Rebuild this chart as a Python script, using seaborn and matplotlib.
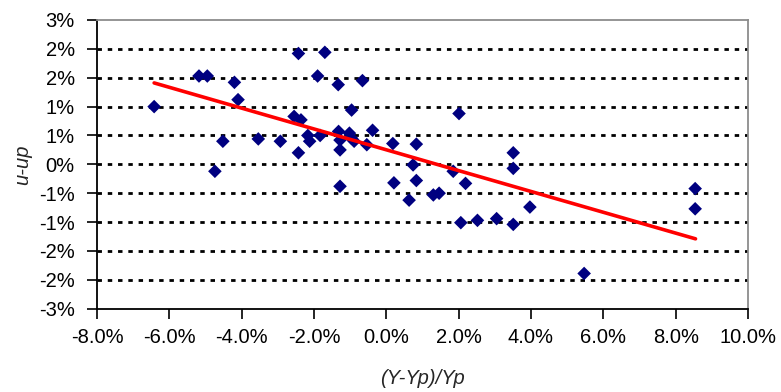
import math
import matplotlib
matplotlib.use("Agg")
import matplotlib.pyplot as plt
from matplotlib.ticker import MultipleLocator, FuncFormatter
import seaborn as sns
import pandas as pd

# values, in percent
rel_dev = [-6.42, -5.18, -4.95, -4.74, -4.52, -4.20, -4.10, -3.54, -2.93, -2.55,
           -2.43, -2.43, -2.36, -2.17, -2.12, -1.90, -1.83, -1.70, -1.33, -1.32,
           -1.28, -1.28, -1.28, -1.02, -0.96, -0.96, -0.89, -0.66, -0.54, -0.38,
           0.18, 0.21, 0.63, 0.74, 0.83, 0.83, 1.30, 1.46, 1.85, 2.01,
           2.06, 2.19, 2.52, 3.05, 3.51, 3.51, 3.51, 3.97, 5.47, 8.54, 8.54]
u_up = [1.00, 1.53, 1.53, -0.12, 0.40, 1.42, 1.12, 0.44, 0.40, 0.83,
        1.92, 0.20, 0.77, 0.50, 0.40, 1.53, 0.50, 1.94, 1.38, 0.57,
        0.42, 0.25, -0.38, 0.54, 0.94, 0.45, 0.40, 1.45, 0.34, 0.59,
        0.36, -0.32, -0.62, -0.01, 0.35, -0.28, -0.53, -0.50, -0.12, 0.88,
        -1.01, -0.33, -0.97, -0.94, 0.20, -0.07, -1.04, -0.74, -1.89, -0.42, -0.77]

# linear trend line end points
trend_x = [-6.42, 8.55]
trend_y = [1.41, -1.29]

df = pd.DataFrame({"x": rel_dev, "y": u_up})
trend = pd.DataFrame({"x": trend_x, "y": trend_y})

sns.set_style("white")
plt.rcParams["font.family"] = ["Liberation Sans", "DejaVu Sans"]

fig = plt.figure(figsize=(7.81, 3.92), dpi=100)
ax = fig.add_axes([0.1242, 0.2125, 0.8335, 0.7365])

sns.scatterplot(data=df, x="x", y="y", marker="D", s=48, color="#000080",
                edgecolor="none", ax=ax, zorder=3)
sns.lineplot(data=trend, x="x", y="y", color="#ff0000", linewidth=2.6, ax=ax, zorder=4)

ax.set_xlim(-8, 10)
ax.set_ylim(-2.5, 2.5)
ax.xaxis.set_major_locator(MultipleLocator(2))
ax.yaxis.set_major_locator(MultipleLocator(0.5))


def excel_round(v, pos):
    r = math.floor(abs(v) + 0.5 + 1e-9)
    if r == 0:
        return "0%"
    return f"{'-' if v < 0 else ''}{r}%"


ax.yaxis.set_major_formatter(FuncFormatter(excel_round))
ax.xaxis.set_major_formatter(FuncFormatter(lambda v, pos: f"{v:.1f}%"))

for yv in [-2.0, -1.5, -1.0, -0.5, 0, 0.5, 1.0, 1.5, 2.0]:
    ax.axhline(yv, color="black", linewidth=2.0, dashes=(1.6, 2.1), zorder=1)

ax.tick_params(axis="both", direction="out", length=7, width=1.2, color="black",
               labelsize=14.5, labelcolor="black")
ax.tick_params(axis="x", pad=7, bottom=True)
ax.tick_params(axis="y", pad=9, left=True)

for side in ["left", "bottom"]:
    ax.spines[side].set_color("black")
    ax.spines[side].set_linewidth(1.3)
for side in ["top", "right"]:
    ax.spines[side].set_color("#8c8c8c")
    ax.spines[side].set_linewidth(1.3)

ax.set_xlabel("(Y-Yp)/Yp", fontsize=14.5, fontstyle="italic", labelpad=16)
ax.set_ylabel("u-up", fontsize=14.5, fontstyle="italic", labelpad=5)

plt.savefig("out.png", dpi=100)
